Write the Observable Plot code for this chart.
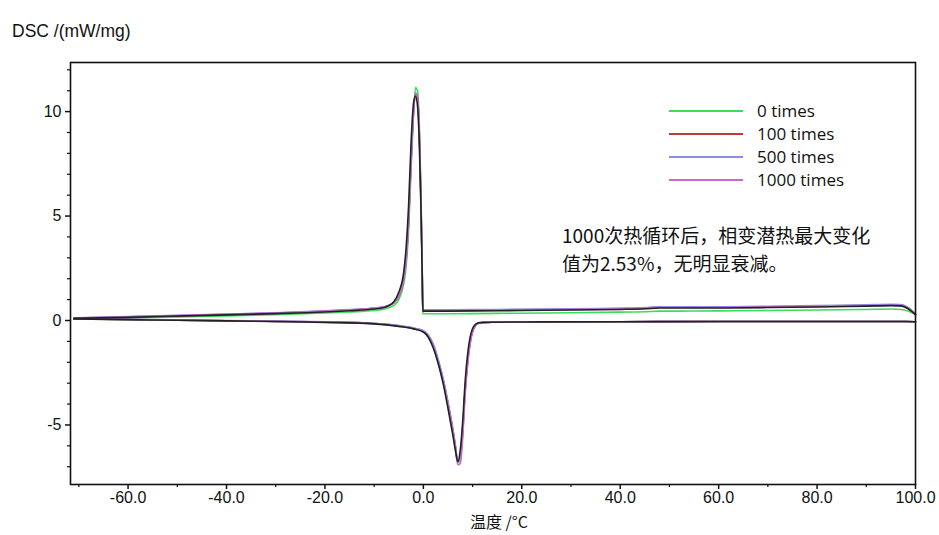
<!DOCTYPE html>
<html>
<head>
<meta charset="utf-8">
<script src="https://cdn.jsdelivr.net/npm/d3@7"></script>
<script src="https://cdn.jsdelivr.net/npm/@observablehq/plot@0.6"></script>
<style>
  html, body { margin: 0; padding: 0; background: #fff; }
  #wrap { position: relative; width: 939px; height: 535px; overflow: hidden; }
  .ov { position: absolute; white-space: nowrap; color: #111; }
  #ylab { left: 12px; top: 21px; font: 17.5px "Liberation Sans", Arial, sans-serif; }
  #note { left: 562px; top: 221px; font: 19px "Noto Sans CJK SC", sans-serif; line-height: 28px; }
  #legend { left: 669px; top: 99px; font: 17px "Open Sans", sans-serif; }
  .lg { display: flex; align-items: center; height: 23px; }
  .lg svg { margin-right: 14px; }
</style>
</head>
<body>
<div id="wrap">
  <div id="chart"></div>
  <div id="ylab" class="ov">DSC /(mW/mg)</div>
  <div id="note" class="ov">1000次热循环后，相变潜热最大变化<br>值为2.53%，无明显衰减。</div>
  <div id="legend" class="ov"></div>
</div>
<script>
// ---- data ----
const seriesNames = ["0 times", "100 times", "500 times", "1000 times", "base"];
const seriesColors = ["#3ddc5a", "#c0393b", "#8c8ce6", "#c46cc8", "#222222"];
const legendNames = ["0 times", "100 times", "500 times", "1000 times"];

const xTicks = [-60, -40, -20, 0, 20, 40, 60, 80, 100];
const xMinorTicks = [-70, -50, -30, -10, 10, 30, 50, 70, 90];
const yTicks = [-5, 0, 5, 10];
const yMinorTicks = [-7, -6, -4, -3, -2, -1, 1, 2, 3, 4, 6, 7, 8, 9, 11, 12];

// cooling branch (exothermic crystallization peak)
const coolT = [-71, -60, -50, -40, -30, -20, -15, -10, -8, -6, -5, -4, -3.5, -3, -2.5, -2, -1.6, -1.2, -0.8, -0.5, -0.25, -0.1, 0, 5, 10, 20, 30, 40, 45, 48, 52, 60, 70, 80, 90, 95, 97, 98.5, 100];
const cool0 = [0.08, 0.12, 0.17, 0.22, 0.28, 0.36, 0.41, 0.48, 0.54, 0.72, 1.0, 1.75, 2.6, 4.3, 7.2, 9.8, 11.15, 11.0, 9.2, 6.2, 2.8, 0.33, 0.32, 0.32, 0.33, 0.35, 0.37, 0.4, 0.42, 0.45, 0.45, 0.46, 0.48, 0.5, 0.53, 0.55, 0.53, 0.45, 0.28];
const cool100 = [0.12, 0.17, 0.23, 0.29, 0.35, 0.44, 0.5, 0.58, 0.64, 0.84, 1.15, 1.95, 2.9, 4.7, 7.6, 10.0, 10.85, 10.7, 8.8, 5.9, 2.6, 0.5, 0.49, 0.49, 0.5, 0.52, 0.54, 0.57, 0.6, 0.64, 0.64, 0.64, 0.66, 0.69, 0.73, 0.75, 0.74, 0.6, 0.3];
const cool500 = [0.13, 0.19, 0.25, 0.31, 0.37, 0.46, 0.52, 0.6, 0.66, 0.86, 1.18, 2.0, 2.95, 4.8, 7.7, 10.05, 10.8, 10.6, 8.7, 5.8, 2.55, 0.52, 0.51, 0.51, 0.52, 0.54, 0.56, 0.59, 0.62, 0.66, 0.66, 0.66, 0.68, 0.71, 0.75, 0.77, 0.76, 0.62, 0.32];
const cool1000 = [0.12, 0.18, 0.24, 0.3, 0.36, 0.45, 0.51, 0.59, 0.65, 0.85, 1.17, 1.98, 2.92, 4.75, 7.65, 10.0, 10.9, 10.65, 8.75, 5.85, 2.6, 0.48, 0.47, 0.47, 0.48, 0.5, 0.52, 0.55, 0.58, 0.62, 0.62, 0.62, 0.64, 0.67, 0.71, 0.73, 0.72, 0.58, 0.3];
const coolBase = [0.1, 0.15, 0.21, 0.27, 0.33, 0.41, 0.47, 0.55, 0.62, 0.9, 1.35, 2.3, 3.5, 5.5, 8.5, 10.4, 10.75, 10.3, 8.3, 5.5, 2.4, 0.46, 0.45, 0.45, 0.46, 0.48, 0.5, 0.53, 0.56, 0.6, 0.6, 0.6, 0.62, 0.65, 0.69, 0.71, 0.7, 0.56, 0.28];

// heating branch (endothermic melting peak)
const heatT = [-71, -60, -50, -40, -30, -20, -10, -5, -2, 0, 1, 2, 3, 4, 5, 6, 6.5, 7, 7.5, 8, 8.5, 9, 9.5, 10, 10.5, 11, 12, 14, 20, 40, 60, 80, 95, 98, 100];
const heat0 = [0.07, 0.04, 0.01, -0.02, -0.05, -0.08, -0.15, -0.26, -0.38, -0.52, -0.75, -1.2, -1.95, -2.85, -4.0, -5.3, -6.0, -6.75, -6.5, -5.2, -3.2, -1.9, -1.0, -0.5, -0.26, -0.15, -0.1, -0.08, -0.07, -0.06, -0.05, -0.05, -0.05, -0.05, -0.06];
const heat100 = [0.08, 0.05, 0.02, -0.01, -0.04, -0.07, -0.14, -0.25, -0.37, -0.5, -0.72, -1.15, -1.9, -2.8, -3.95, -5.25, -6.0, -6.8, -6.6, -5.3, -3.3, -1.95, -1.05, -0.52, -0.27, -0.15, -0.1, -0.08, -0.07, -0.06, -0.05, -0.05, -0.05, -0.05, -0.06];
const heat500 = [0.09, 0.06, 0.03, 0.0, -0.03, -0.06, -0.13, -0.24, -0.36, -0.49, -0.7, -1.12, -1.85, -2.75, -3.9, -5.2, -5.95, -6.8, -6.65, -5.35, -3.35, -2.0, -1.08, -0.53, -0.27, -0.15, -0.1, -0.08, -0.07, -0.06, -0.05, -0.05, -0.05, -0.05, -0.06];
const heat1000 = [0.08, 0.05, 0.02, -0.01, -0.04, -0.07, -0.14, -0.26, -0.39, -0.54, -0.78, -1.25, -2.0, -2.9, -4.05, -5.35, -6.1, -6.9, -6.85, -5.6, -3.5, -2.1, -1.12, -0.55, -0.28, -0.15, -0.1, -0.08, -0.07, -0.06, -0.05, -0.05, -0.05, -0.05, -0.06];
const heatBase = [0.07, 0.04, 0.01, -0.02, -0.05, -0.09, -0.16, -0.28, -0.4, -0.55, -0.8, -1.3, -2.05, -3.0, -4.2, -5.5, -6.2, -6.75, -6.2, -4.8, -2.9, -1.6, -0.8, -0.38, -0.2, -0.12, -0.09, -0.08, -0.07, -0.06, -0.05, -0.05, -0.05, -0.05, -0.06];

const coolSets = [cool0, cool100, cool500, cool1000, coolBase];
const heatSets = [heat0, heat100, heat500, heat1000, heatBase];

// ---- build table ----
const rows = [];
seriesNames.forEach((name, i) => {
  coolT.forEach((t, j) => rows.push({series: name, branch: name + "-cool", T: t, v: coolSets[i][j]}));
  heatT.forEach((t, j) => rows.push({series: name, branch: name + "-heat", T: t, v: heatSets[i][j]}));
});

const chart = Plot.plot({
  width: 939,
  height: 535,
  marginLeft: 70,
  marginRight: 24,
  marginTop: 62,
  marginBottom: 51,
  style: {fontFamily: "'Liberation Sans', Arial, sans-serif", fontSize: "16px", background: "white", color: "#111"},
  x: {domain: [-71.7, 100], axis: null},
  y: {domain: [-7.85, 12.35], axis: null},
  color: {domain: seriesNames, range: seriesColors},
  marks: [
    Plot.line(rows, {x: "T", y: "v", z: "branch", stroke: "series", strokeWidth: 1.6, curve: "monotone-x"}),
    Plot.frame({stroke: "#111", strokeWidth: 1.6}),
    Plot.axisX(xTicks, {tickSize: 5, tickPadding: 2, tickFormat: d => d.toFixed(1), strokeWidth: 1.5, label: null}),
    Plot.axisX(xMinorTicks, {tickSize: 3, tickFormat: null, text: null, strokeWidth: 1.2, label: null}),
    Plot.axisY(yTicks, {tickSize: 5, tickPadding: 4, tickFormat: d => String(d), strokeWidth: 1.5, label: null}),
    Plot.axisY(yMinorTicks, {tickSize: 3, tickFormat: null, text: null, strokeWidth: 1.2, label: null}),
    Plot.text(["温度 /°C"], {frameAnchor: "bottom", dy: 43, dx: 6, fontSize: 16, fontFamily: "'Noto Sans CJK SC', 'Liberation Sans', sans-serif", fill: "#111"})
  ]
});
document.getElementById("chart").appendChild(chart);

// legend
const lg = document.getElementById("legend");
legendNames.forEach((name, i) => {
  const row = document.createElement("div");
  row.className = "lg";
  const ns = "http://www.w3.org/2000/svg";
  const sw = document.createElementNS(ns, "svg");
  sw.setAttribute("width", "74");
  sw.setAttribute("height", "6");
  const ln = document.createElementNS(ns, "line");
  ln.setAttribute("x1", "0"); ln.setAttribute("x2", "74");
  ln.setAttribute("y1", "3"); ln.setAttribute("y2", "3");
  ln.setAttribute("stroke", seriesColors[i]);
  ln.setAttribute("stroke-width", "2");
  sw.appendChild(ln);
  row.appendChild(sw);
  row.appendChild(document.createTextNode(name));
  lg.appendChild(row);
});
</script>
</body>
</html>
